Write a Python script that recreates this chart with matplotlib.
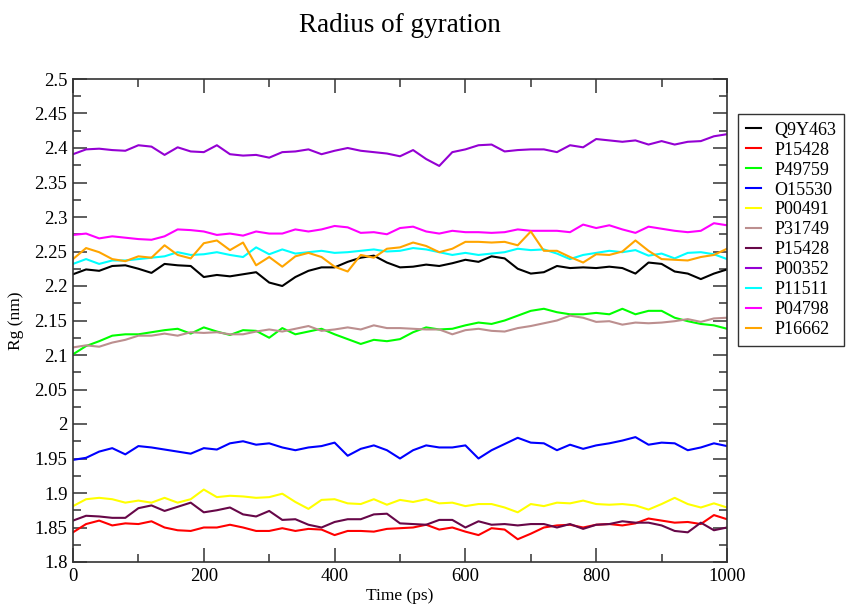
"""Radius of gyration of the protein set over a 1 ns run (Grace-style plot)"""
import matplotlib
matplotlib.use('Agg')
import matplotlib.pyplot as plt
from matplotlib.ticker import MultipleLocator, FormatStrFormatter

plt.rcParams['font.family'] = ['Liberation Serif', 'DejaVu Serif']

TIME = list(range(0, 1001, 20))

Q9Y463 = [2.217, 2.224, 2.222, 2.229, 2.230, 2.225, 2.219, 2.232, 2.230, 2.229, 2.213, 2.216, 2.214,
          2.217, 2.220, 2.205, 2.200, 2.213, 2.222, 2.227, 2.227, 2.235, 2.241, 2.244, 2.234,
          2.227, 2.228, 2.231, 2.229, 2.233, 2.238, 2.235, 2.243, 2.240, 2.225, 2.218, 2.220, 2.229,
          2.226, 2.227, 2.226, 2.228, 2.226, 2.218, 2.234, 2.232, 2.221, 2.218, 2.210, 2.218, 2.224]
P15428_A = [1.843, 1.855, 1.860, 1.853, 1.856, 1.855, 1.859, 1.850, 1.846, 1.845, 1.850, 1.850, 1.854,
            1.850, 1.845, 1.845, 1.849, 1.845, 1.848, 1.847, 1.839, 1.845, 1.845, 1.844, 1.848,
            1.849, 1.850, 1.854, 1.847, 1.850, 1.844, 1.839, 1.849, 1.847, 1.833, 1.841, 1.850, 1.853,
            1.854, 1.850, 1.854, 1.855, 1.853, 1.856, 1.863, 1.860, 1.857, 1.858, 1.855, 1.868, 1.862]
P49759 = [2.101, 2.113, 2.120, 2.128, 2.130, 2.130, 2.133, 2.136, 2.138, 2.131, 2.140, 2.134, 2.129,
          2.136, 2.135, 2.125, 2.139, 2.130, 2.134, 2.138, 2.130, 2.123, 2.116, 2.122, 2.120,
          2.123, 2.133, 2.140, 2.137, 2.138, 2.143, 2.147, 2.145, 2.150, 2.157, 2.164, 2.167, 2.162,
          2.159, 2.159, 2.161, 2.159, 2.167, 2.159, 2.164, 2.164, 2.154, 2.149, 2.145, 2.143, 2.138]
O15530 = [1.948, 1.951, 1.960, 1.965, 1.956, 1.968, 1.966, 1.963, 1.960, 1.957, 1.965, 1.963, 1.972,
          1.975, 1.970, 1.972, 1.966, 1.962, 1.966, 1.968, 1.973, 1.954, 1.964, 1.969, 1.962,
          1.950, 1.962, 1.969, 1.966, 1.966, 1.969, 1.950, 1.962, 1.971, 1.980, 1.973, 1.972, 1.962,
          1.970, 1.964, 1.969, 1.972, 1.976, 1.981, 1.970, 1.973, 1.972, 1.962, 1.966, 1.972, 1.968]
P00491 = [1.881, 1.891, 1.893, 1.891, 1.886, 1.889, 1.886, 1.893, 1.886, 1.891, 1.905, 1.894, 1.896,
          1.895, 1.893, 1.894, 1.899, 1.887, 1.877, 1.890, 1.891, 1.885, 1.884, 1.891, 1.883,
          1.890, 1.887, 1.891, 1.885, 1.886, 1.881, 1.884, 1.884, 1.879, 1.872, 1.884, 1.881, 1.886,
          1.885, 1.889, 1.884, 1.883, 1.884, 1.882, 1.876, 1.884, 1.893, 1.884, 1.879, 1.885, 1.879]
P31749 = [2.111, 2.114, 2.112, 2.118, 2.122, 2.128, 2.128, 2.131, 2.128, 2.133, 2.132, 2.133, 2.130,
          2.130, 2.134, 2.137, 2.134, 2.138, 2.142, 2.135, 2.137, 2.140, 2.137, 2.143, 2.139,
          2.139, 2.138, 2.137, 2.137, 2.130, 2.136, 2.138, 2.135, 2.134, 2.139, 2.142, 2.146, 2.150,
          2.157, 2.154, 2.148, 2.149, 2.144, 2.147, 2.146, 2.147, 2.149, 2.152, 2.148, 2.153, 2.154]
P15428_B = [1.860, 1.867, 1.866, 1.864, 1.864, 1.878, 1.882, 1.874, 1.880, 1.886, 1.872, 1.875, 1.879,
            1.869, 1.866, 1.874, 1.861, 1.862, 1.854, 1.850, 1.858, 1.862, 1.862, 1.869, 1.870,
            1.856, 1.855, 1.854, 1.861, 1.861, 1.850, 1.859, 1.854, 1.855, 1.853, 1.855, 1.855, 1.850,
            1.855, 1.848, 1.854, 1.855, 1.859, 1.857, 1.857, 1.853, 1.845, 1.843, 1.857, 1.846, 1.850]
P00352 = [2.391, 2.398, 2.399, 2.397, 2.396, 2.404, 2.402, 2.390, 2.401, 2.395, 2.394, 2.404, 2.391,
          2.389, 2.390, 2.386, 2.394, 2.395, 2.398, 2.391, 2.396, 2.400, 2.396, 2.394, 2.392,
          2.388, 2.397, 2.384, 2.374, 2.394, 2.398, 2.404, 2.405, 2.395, 2.397, 2.398, 2.398, 2.394,
          2.404, 2.401, 2.413, 2.411, 2.409, 2.411, 2.405, 2.410, 2.405, 2.409, 2.410, 2.417, 2.420]
P11511 = [2.232, 2.239, 2.232, 2.237, 2.237, 2.239, 2.241, 2.243, 2.249, 2.245, 2.246, 2.249, 2.245,
          2.242, 2.256, 2.246, 2.253, 2.247, 2.249, 2.251, 2.248, 2.249, 2.251, 2.253, 2.250,
          2.251, 2.255, 2.253, 2.249, 2.245, 2.248, 2.245, 2.247, 2.249, 2.254, 2.252, 2.253, 2.247,
          2.239, 2.245, 2.248, 2.251, 2.249, 2.252, 2.244, 2.247, 2.240, 2.248, 2.249, 2.246, 2.239]
P04798 = [2.274, 2.276, 2.269, 2.272, 2.270, 2.268, 2.267, 2.272, 2.282, 2.281, 2.279, 2.274, 2.276,
          2.273, 2.279, 2.276, 2.276, 2.282, 2.279, 2.282, 2.287, 2.285, 2.277, 2.278, 2.275,
          2.284, 2.286, 2.279, 2.276, 2.280, 2.278, 2.278, 2.277, 2.278, 2.282, 2.280, 2.280, 2.280,
          2.278, 2.289, 2.284, 2.288, 2.282, 2.277, 2.286, 2.283, 2.280, 2.278, 2.280, 2.291, 2.288]
P16662 = [2.239, 2.255, 2.249, 2.239, 2.236, 2.243, 2.241, 2.259, 2.245, 2.240, 2.262, 2.266, 2.252,
          2.263, 2.230, 2.242, 2.228, 2.243, 2.248, 2.242, 2.228, 2.221, 2.245, 2.241, 2.254,
          2.256, 2.263, 2.258, 2.249, 2.254, 2.264, 2.264, 2.263, 2.264, 2.259, 2.279, 2.251, 2.251,
          2.242, 2.234, 2.246, 2.245, 2.250, 2.266, 2.251, 2.239, 2.238, 2.237, 2.242, 2.245, 2.254]

SERIES = [('Q9Y463', Q9Y463, '#000000'),
          ('P15428', P15428_A, '#ff0000'),
          ('P49759', P49759, '#00ff00'),
          ('O15530', O15530, '#0000ff'),
          ('P00491', P00491, '#ffff00'),
          ('P31749', P31749, '#bc8f8f'),
          ('P15428', P15428_B, '#670748'),
          ('P00352', P00352, '#9400d3'),
          ('P11511', P11511, '#00ffff'),
          ('P04798', P04798, '#ff00ff'),
          ('P16662', P16662, '#ffa500')]

FRAME = '#333333'

fig = plt.figure(figsize=(8.46, 6.06), dpi=100)
ax = fig.add_axes([73 / 846, 1 - 562 / 606, 654 / 846, 483 / 606])

lines = []
for name, values, color in SERIES:
    line, = ax.plot(TIME, values, color=color, lw=1.5, label=name)
    lines.append(line)

ax.set_xlim(0, 1000)
ax.set_ylim(1.8, 2.5)
ax.xaxis.set_major_locator(MultipleLocator(200))
ax.xaxis.set_minor_locator(MultipleLocator(100))
ax.yaxis.set_major_locator(MultipleLocator(0.05))
ax.yaxis.set_minor_locator(MultipleLocator(0.025))
ax.yaxis.set_major_formatter(FormatStrFormatter('%g'))
ax.tick_params(which='both', direction='in', top=True, right=True, color=FRAME,
               width=1.1, labelsize=13.5, pad=4)
ax.tick_params(which='major', length=10)
ax.tick_params(which='minor', length=5.5)
for spine in ax.spines.values():
    spine.set_color(FRAME)
    spine.set_linewidth(1.2)

fig.text(400 / 846, 1 - 25 / 606, 'Radius of gyration', ha='center', va='center', fontsize=19.5)
fig.text(400 / 846, 1 - 596 / 606, 'Time (ps)', ha='center', va='center', fontsize=12.5)
fig.text(16 / 846, 1 - 321 / 606, 'Rg (nm)', ha='center', va='center', rotation=90, fontsize=12.5)

leg = fig.legend(lines, [s[0] for s in SERIES], loc='upper left',
                 bbox_to_anchor=(738 / 846, 1 - 114 / 606), fontsize=13,
                 fancybox=False, edgecolor=FRAME, framealpha=1,
                 handlelength=0.85, handletextpad=0.75, labelspacing=0.165,
                 borderpad=0.42, borderaxespad=0)
leg.get_frame().set_linewidth(1.0)
for h in leg.get_lines():
    h.set_linewidth(1.5)

fig.savefig('out.png', dpi=100)
